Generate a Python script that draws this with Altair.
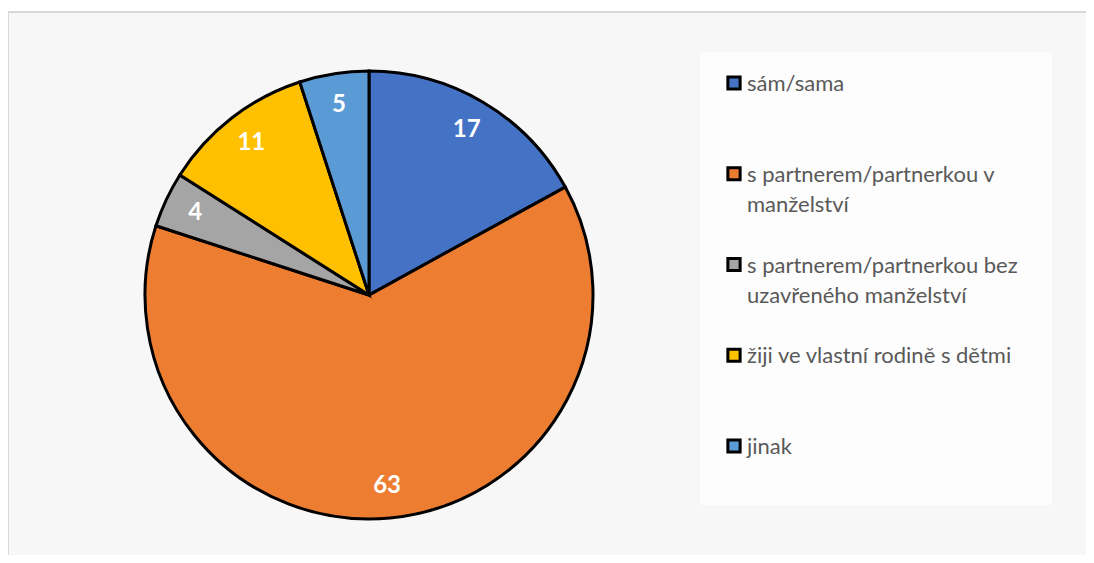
import altair as alt
import pandas as pd

categories = [
    "sám/sama",
    "s partnerem/partnerkou v manželství",
    "s partnerem/partnerkou bez uzavřeného manželství",
    "žiji ve vlastní rodině s dětmi",
    "jinak",
]
values = [17, 63, 4, 11, 5]
legend_labels = [
    "sám/sama",
    "s partnerem/partnerkou v\nmanželství",
    "s partnerem/partnerkou bez\nuzavřeného manželství",
    "žiji ve vlastní rodině s dětmi",
    "jinak",
]
colors = ["#4472C4", "#ED7D31", "#A5A5A5", "#FFC000", "#5B9BD5"]

df = pd.DataFrame({
    "cat": categories,
    "value": values,
    "ord": list(range(len(categories))),
    "legend": legend_labels,
})

W, H = 1078, 543
CX, CY = 361, 283

color_scale = alt.Scale(domain=categories, range=colors)
base = alt.Chart(df)

pie = base.mark_arc(radius=224, stroke="black", strokeWidth=3).encode(
    theta=alt.Theta("value:Q", stack=True),
    order=alt.Order("ord:Q"),
    color=alt.Color("cat:N", scale=color_scale, legend=None),
    x=alt.value(CX),
    y=alt.value(CY),
)

labels = base.mark_text(
    radius=192, font="Lato", fontSize=24, fontWeight="bold", color="white"
).encode(
    theta=alt.Theta("value:Q", stack=True),
    order=alt.Order("ord:Q"),
    text=alt.Text("value:Q"),
    x=alt.value(CX),
    y=alt.value(CY),
)

legend_box = alt.Chart(pd.DataFrame({"a": [0]})).mark_rect(
    fill="#fdfdfd", stroke=None
).encode(x=alt.value(692), x2=alt.value(1044), y=alt.value(40), y2=alt.value(493))

border = alt.Chart(pd.DataFrame({"a": [0]})).mark_rule(
    color="#d9d9d9", strokeWidth=2
).encode(x=alt.value(0), x2=alt.value(W), y=alt.value(0))
border_left = alt.Chart(pd.DataFrame({"a": [0]})).mark_rule(
    color="#d9d9d9", strokeWidth=2
).encode(x=alt.value(0), y=alt.value(0), y2=alt.value(H))

ypos = alt.Y("ord:Q", scale=alt.Scale(domain=[0, 4], range=[71, 434]), axis=None)

leg_sym = base.mark_square(size=150, stroke="black", strokeWidth=3, opacity=1).encode(
    x=alt.value(726),
    y=ypos,
    color=alt.Color("cat:N", scale=color_scale, legend=None),
)

leg_text = base.mark_text(
    align="left", baseline="alphabetic", dy=8, font="Lato", fontSize=22,
    color="#595959", lineBreak="\n", lineHeight=30,
).encode(
    x=alt.value(739),
    y=ypos,
    text="legend:N",
)

chart = alt.layer(border, border_left, legend_box, pie, labels, leg_sym, leg_text).properties(
    width=W, height=H, autosize="none",
    padding={"left": 0, "right": 0, "top": 4, "bottom": 0},
).configure_view(fill="#f7f7f7", stroke=None)

chart.save("out.html", embed_options={"renderer": "svg", "actions": False})
